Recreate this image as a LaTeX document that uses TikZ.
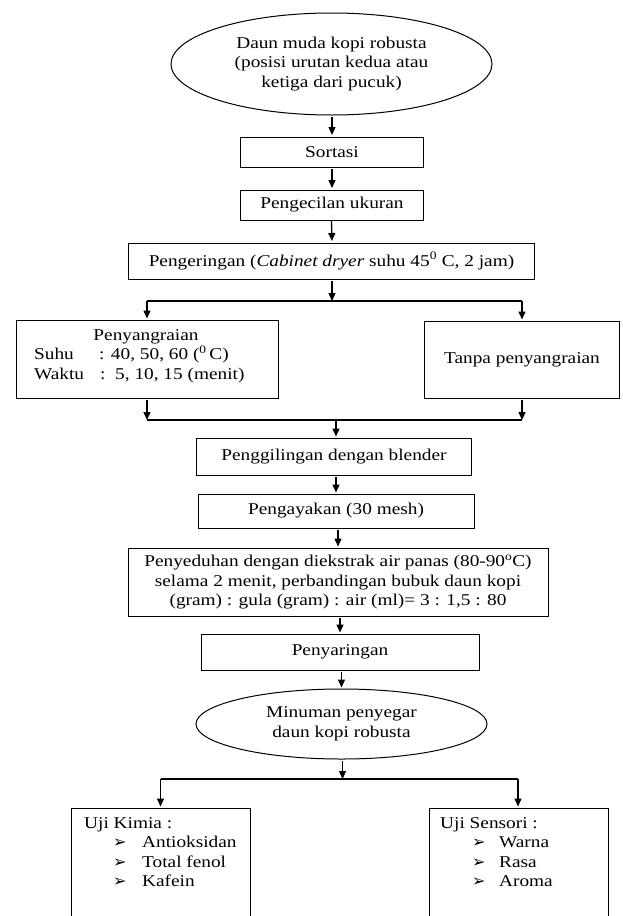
\documentclass[tikz,border=0pt]{standalone}
\usepackage{fontspec}
\setmainfont{Liberation Serif}[FakeStretch=1.17]
\newfontfamily\bulfont{DejaVu Sans}
\usetikzlibrary{shapes.geometric,arrows.meta}
\newcommand\arrbul{{\bulfont\fontsize{16}{16}\selectfont ➢}}
\begin{document}
\begin{tikzpicture}[x=1pt,y=-1pt,
  every node/.style={font=\fontsize{16.5}{19.5}\selectfont, inner sep=0pt},
  box/.style={draw, line width=1pt, rectangle},
  oval/.style={draw, line width=1pt, ellipse},
  arr/.style={line width=1.3pt, -{Triangle[width=7pt,length=8pt]}},
  ln/.style={line width=1.3pt}]
\path[use as bounding box] (0,0) rectangle (622,916);
\clip (0,0) rectangle (622,916);
\fill[white] (0,0) rectangle (622,916);

% top chain
\node[oval, minimum width=321pt, minimum height=102pt, align=center] (src) at (331.5,64)
  {Daun muda kopi robusta\\(posisi urutan kedua atau\\ketiga dari pucuk)};
\node[box, minimum width=183pt, minimum height=30pt] (sort) at (332,152) {Sortasi};
\node[box, minimum width=183pt, minimum height=30pt] (kecil) at (332,205) {Pengecilan ukuran};
\node[box, minimum width=406pt, minimum height=36pt] (dry) at (331.5,261)
  {Pengeringan (\textit{Cabinet dryer} suhu 45\textsuperscript{0} C, 2 jam)};

\draw[arr, shorten <=1.5pt, shorten >=1.5pt] (src.south -| sort.north) -- (sort.north);
\draw[arr, shorten <=1.5pt, shorten >=1.5pt] (sort.south) -- (kecil.north);
\draw[arr, shorten <=1.5pt, shorten >=1.5pt] (kecil.south -| sort.north) -- (kecil.south -| dry.north) -- ([xshift=0.5pt]dry.north);

% split 1
\coordinate (b1) at (332,301);
\coordinate (b1L) at (147,301);
\coordinate (b1R) at (522,301);
\draw[arr, shorten <=1.5pt] (dry.south -| b1) -- (b1);
\draw[ln] (b1L) -- (b1R);

\node[box, minimum width=262pt, minimum height=78pt] (roast) at (147,359) {};
\node[box, minimum width=195pt, minimum height=77pt] (tanpa) at (522,359.5) {Tanpa penyangraian};
\draw[arr, shorten >=1pt] (b1L) -- (roast.north);
\draw[arr, shorten >=1pt] (b1R) -- (tanpa.north);

\node[anchor=base] (rt) at (146,340) {Penyangraian};
\node[anchor=base west] (rs) at (34,359.5) {\makebox[65pt][l]{Suhu}: 40, 50, 60 (\textsuperscript{0}\,C)};
\node[anchor=base west] (rw) at (34,379) {\makebox[66pt][l]{Waktu}:\ \ 5, 10, 15 (menit)};

% join
\coordinate (jL) at (147,420);
\coordinate (jR) at (522,420);
\coordinate (jM) at (336,420);
\draw[arr, shorten <=1.5pt] (roast.south) -- (roast.south |- jL);
\draw[arr, shorten <=1.5pt] (tanpa.south) -- (tanpa.south |- jR);
\draw[ln] (jL) -- (jR);

\node[box, minimum width=275pt, minimum height=37pt] (gil) at (334,456.5) {Penggilingan dengan blender};
\node[box, minimum width=276pt, minimum height=34pt] (aya) at (336,511) {Pengayakan (30 mesh)};
\node[box, minimum width=420pt, minimum height=68pt, align=center] (brew) at (338,582)
  {Penyeduhan dengan diekstrak air panas (80-90\textsuperscript{o}C)\\selama 2 menit, perbandingan bubuk daun kopi\\(gram) : gula (gram) : air (ml)= 3 : 1,5 : 80};
\node[box, minimum width=278pt, minimum height=36pt] (saring) at (340,652) {Penyaringan};
\node[oval, minimum width=291pt, minimum height=70pt, align=center] (drink) at (341.5,724)
  {Minuman penyegar\\daun kopi robusta};

\draw[arr, shorten >=1pt] (jM) -- (jM |- gil.north);
\draw[arr, shorten <=1.5pt, shorten >=1pt] (gil.south -| aya.north) -- (aya.north);
\draw[arr, shorten <=1.5pt, shorten >=1pt] (aya.south -| brew.north) -- (brew.north);
\draw[arr, shorten <=1.5pt, shorten >=1pt] (brew.south -| saring.north) -- (saring.north);
\draw[arr, shorten <=1.5pt, shorten >=1pt] (saring.south -| drink.north) -- (drink.north);

% split 2
\coordinate (s2) at (342.5,779);
\coordinate (s2L) at (160.5,779);
\coordinate (s2R) at (518,779);
\draw[arr, shorten <=1.5pt] (drink.south -| s2) -- (s2);
\draw[ln] (s2L) -- (s2R);

\node[box, minimum width=179pt, minimum height=122pt] (kim) at (160.5,869) {};
\node[box, minimum width=179pt, minimum height=122pt] (sen) at (518.5,869) {};
\draw[arr, shorten >=1pt] (s2L) -- (s2L |- kim.north);
\draw[arr, shorten >=1pt] (s2R) -- (s2R |- sen.north);

\node[anchor=base west] (k0) at (84,828) {Uji Kimia :};
\node[anchor=base west] (k1) at (113,847.5) {\makebox[29pt][l]{\arrbul}Antioksidan};
\node[anchor=base west] (k2) at (113,867) {\makebox[29pt][l]{\arrbul}Total fenol};
\node[anchor=base west] (k3) at (113,886.5) {\makebox[29pt][l]{\arrbul}Kafein};

\node[anchor=base west] (e0) at (440,828) {Uji Sensori :};
\node[anchor=base west] (e1) at (472,847.5) {\makebox[27pt][l]{\arrbul}Warna};
\node[anchor=base west] (e2) at (472,867) {\makebox[27pt][l]{\arrbul}Rasa};
\node[anchor=base west] (e3) at (472,886.5) {\makebox[27pt][l]{\arrbul}Aroma};
\end{tikzpicture}
\end{document}
